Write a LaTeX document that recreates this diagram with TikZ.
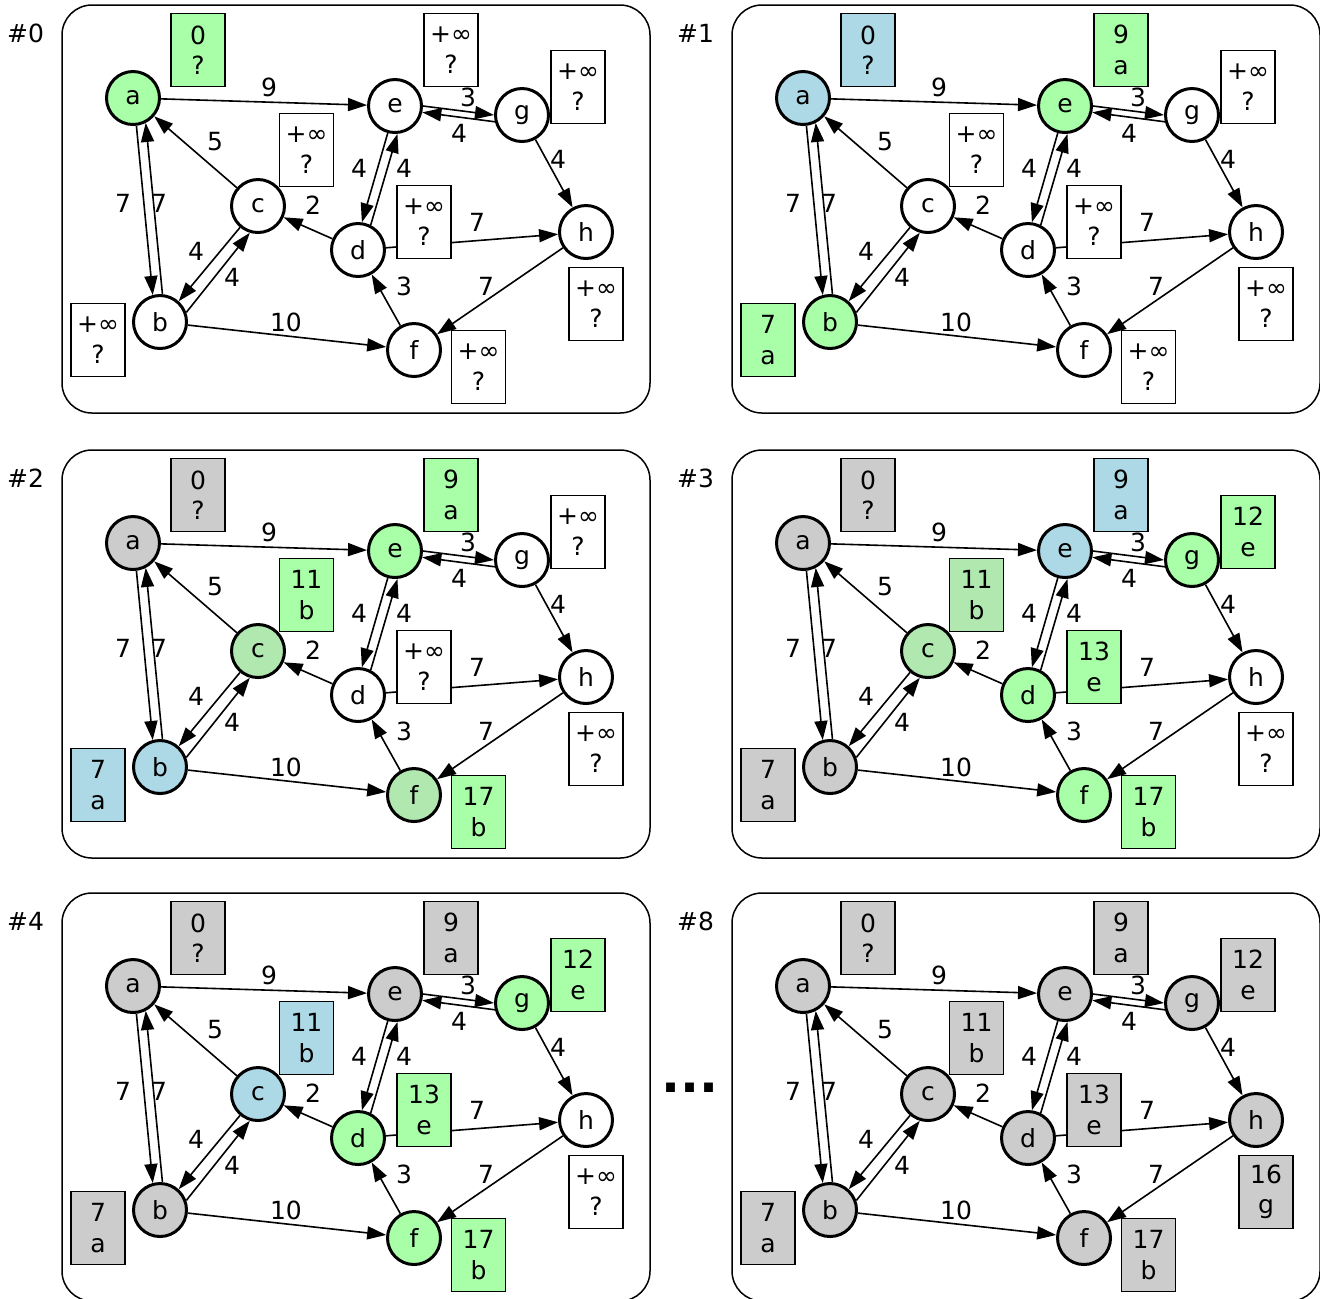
\documentclass[tikz,border=0pt]{standalone}
\usepackage{fontspec}
\setmainfont{DejaVu Sans}
\usetikzlibrary{arrows.meta}

\definecolor{grn}{HTML}{A8FFA8}
\definecolor{lgrn}{HTML}{B0E8B0}
\definecolor{blu}{HTML}{ADD8E6}
\definecolor{gry}{HTML}{CCCCCC}

\tikzset{
  vert/.style={circle, draw, fill=white, line width=1.5pt, minimum size=26.5pt, inner sep=0pt},
  dist/.style={rectangle, draw, fill=white, line width=0.6pt, minimum width=27pt,
    minimum height=36.5pt, inner sep=0pt, align=center},
  wt/.style={inner sep=0pt},
  link/.style={->, line width=0.8pt},
  frame/.style={draw, rounded corners=15pt, line width=0.75pt},
  fa/.style={}, fb/.style={}, fc/.style={}, fd/.style={},
  fe/.style={}, ff/.style={}, fg/.style={}, fh/.style={},
  ba/.style={}, bb/.style={}, bc/.style={}, bd/.style={},
  be/.style={}, bf/.style={}, bg/.style={}, bh/.style={}
}

\newcommand{\nodist}{+∞\\?}
\newcommand{\dista}{\nodist}
\newcommand{\distb}{\nodist}
\newcommand{\distc}{\nodist}
\newcommand{\distd}{\nodist}
\newcommand{\diste}{\nodist}
\newcommand{\distf}{\nodist}
\newcommand{\distg}{\nodist}
\newcommand{\disth}{\nodist}

% one step of the run: #1 = name prefix, #2 = step title
\newcommand{\dgraph}[2]{%
  \draw[frame] (62,5) rectangle (650,413);
  \node (#1t) at (25.5,33) {#2};
  % ==== VERTICES ====
  \node[vert, fa] (#1a) at (133,98) {a};
  \node[vert, fb] (#1b) at (160,322) {b};
  \node[vert, fc] (#1c) at (258,206) {c};
  \node[vert, fd] (#1d) at (358,250) {d};
  \node[vert, fe] (#1e) at (395,106) {e};
  \node[vert, ff] (#1f) at (414,350) {f};
  \node[vert, fg] (#1g) at (522,115) {g};
  \node[vert, fh] (#1h) at (586,232) {h};
  % ==== EDGES ====
  \draw[link] (#1a) -- (#1e);
  \draw[link] (#1a.-83) -- (#1b.105);
  \draw[link] (#1b.85) -- (#1a.-63);
  \draw[link] (#1c) -- (#1a);
  \draw[link] (#1c.-130) -- (#1b.48);
  \draw[link] (#1b.20) -- (#1c.-107);
  \draw[link] (#1b) -- (#1f);
  \draw[link] (#1d) -- (#1c);
  \draw[link] (#1e.-105) -- (#1d.82);
  \draw[link] (#1d.63) -- (#1e.-85);
  \draw[link] (#1e.0) -- (#1g.180);
  \draw[link] (#1g.-166) -- (#1e.-13);
  \draw[link] (#1g) -- (#1h);
  \draw[link] (#1d) -- (#1h);
  \draw[link] (#1f) -- (#1d);
  \draw[link] (#1h) -- (#1f);
  % ==== WEIGHTS ====
  \node[wt] (#1w1) at (269,87) {9};
  \node[wt] (#1w2) at (468,97) {3};
  \node[wt] (#1w3) at (459,133) {4};
  \node[wt] (#1w4) at (215,142) {5};
  \node[wt] (#1w5) at (123,203) {7};
  \node[wt] (#1w6) at (159,203) {7};
  \node[wt] (#1w7) at (359,168) {4};
  \node[wt] (#1w8) at (404,168) {4};
  \node[wt] (#1w9) at (558,159) {4};
  \node[wt] (#1w10) at (313,205) {2};
  \node[wt] (#1w11) at (477,222) {7};
  \node[wt] (#1w12) at (196,251) {4};
  \node[wt] (#1w13) at (232,277) {4};
  \node[wt] (#1w14) at (404,286) {3};
  \node[wt] (#1w15) at (486,286) {7};
  \node[wt] (#1w16) at (286,322) {10};
  % ==== DISTANCE BOXES ====
  \node[dist, ba] (#1da) at (198,50) {\dista};
  \node[dist, bb] (#1db) at (98,340) {\distb};
  \node[dist, bc] (#1dc) at (306.5,150) {\distc};
  \node[dist, bd] (#1dd) at (424,222) {\distd};
  \node[dist, be] (#1de) at (451,50) {\diste};
  \node[dist, bf] (#1df) at (478.5,367) {\distf};
  \node[dist, bg] (#1dg) at (578,87) {\distg};
  \node[dist, bh] (#1dh) at (596,304) {\disth};
}

\begin{document}
\begin{tikzpicture}[x=0.5pt, y=-0.5pt, >={Triangle[length=9.5pt,width=6.5pt]},
    font=\fontsize{12.5}{15.25}\selectfont]
  \useasboundingbox (0,0) rectangle (1320,1298);

  % ==== STEP 0 ====
  \tikzset{fa/.style={fill=grn}, ba/.style={fill=grn}}
  \def\dista{0\\?}
  \begin{scope}
    \dgraph{p0}{\#0}
  \end{scope}

  % ==== STEP 1 ====
  \tikzset{fa/.style={fill=blu}, ba/.style={fill=blu},
    fb/.style={fill=grn}, bb/.style={fill=grn},
    fe/.style={fill=grn}, be/.style={fill=grn}}
  \def\distb{7\\a}
  \def\diste{9\\a}
  \begin{scope}[shift={(670,0)}]
    \dgraph{p1}{\#1}
  \end{scope}

  % ==== STEP 2 ====
  \tikzset{fa/.style={fill=gry}, ba/.style={fill=gry},
    fb/.style={fill=blu}, bb/.style={fill=blu},
    fc/.style={fill=lgrn}, bc/.style={fill=grn},
    ff/.style={fill=lgrn}, bf/.style={fill=grn}}
  \def\distc{11\\b}
  \def\distf{17\\b}
  \begin{scope}[shift={(0,445)}]
    \dgraph{p2}{\#2}
  \end{scope}

  % ==== STEP 3 ====
  \tikzset{fb/.style={fill=gry}, bb/.style={fill=gry},
    bc/.style={fill=lgrn},
    fd/.style={fill=grn}, bd/.style={fill=grn},
    fe/.style={fill=blu}, be/.style={fill=blu},
    ff/.style={fill=grn},
    fg/.style={fill=grn}, bg/.style={fill=grn}}
  \def\distd{13\\e}
  \def\distg{12\\e}
  \begin{scope}[shift={(670,445)}]
    \dgraph{p3}{\#3}
  \end{scope}

  % ==== STEP 4 ====
  \tikzset{fc/.style={fill=blu}, bc/.style={fill=blu},
    fe/.style={fill=gry}, be/.style={fill=gry}}
  \begin{scope}[shift={(0,888)}]
    \dgraph{p4}{\#4}
  \end{scope}

  % ==== STEP 8 ====
  \tikzset{fc/.style={fill=gry}, bc/.style={fill=gry},
    fd/.style={fill=gry}, bd/.style={fill=gry},
    ff/.style={fill=gry}, bf/.style={fill=gry},
    fg/.style={fill=gry}, bg/.style={fill=gry},
    fh/.style={fill=gry}, bh/.style={fill=gry}}
  \def\disth{16\\g}
  \begin{scope}[shift={(670,888)}]
    \dgraph{p8}{\#8}
  \end{scope}

  \node[font=\fontsize{25}{30}\selectfont\bfseries, inner sep=0pt] (skip) at (690,1088) {...};
\end{tikzpicture}
\end{document}
